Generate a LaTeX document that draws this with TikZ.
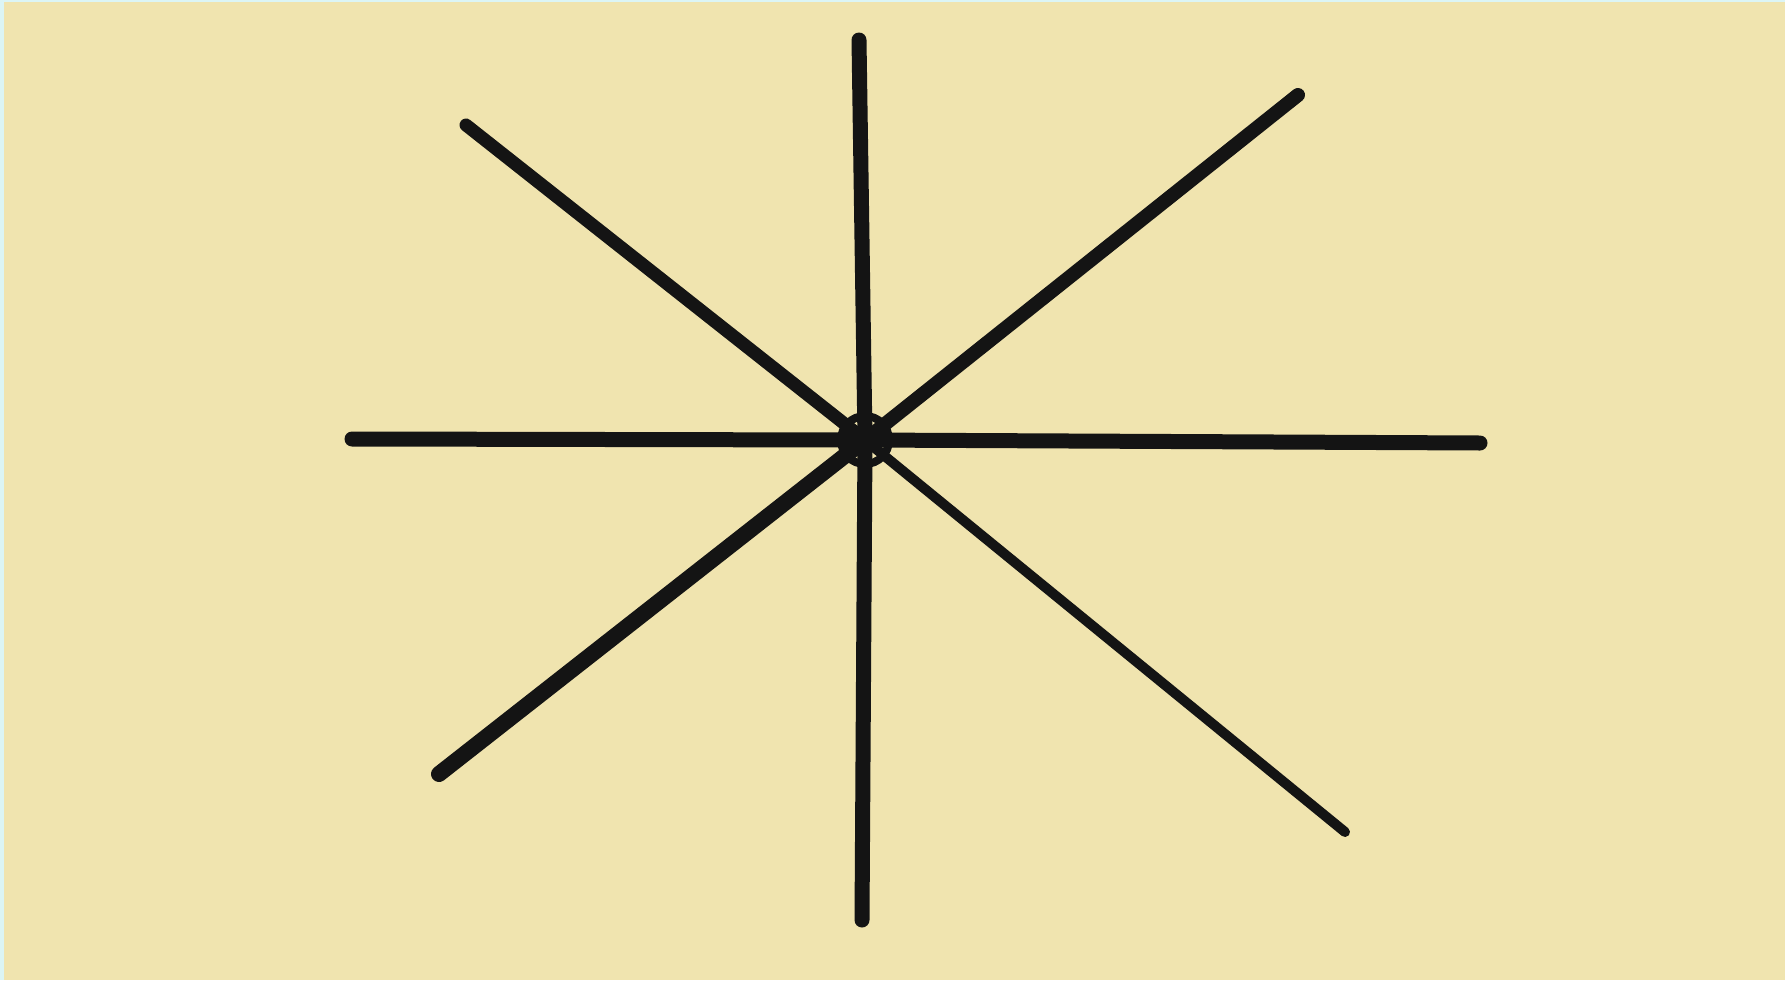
\documentclass[tikz,border=0pt]{standalone}
\definecolor{paper}{RGB}{240,228,175}
\definecolor{edge}{RGB}{220,245,245}
\tikzset{spoke/.style={line width=15pt, line cap=round, black!92}}
\begin{document}
\begin{tikzpicture}[x=1pt,y=-1pt]
\fill[edge] (0,0) rectangle (1785,980);
\fill[paper] (4,2) rectangle (1785,980);
\useasboundingbox (0,0) rectangle (1785,980);
\coordinate (c) at (865,440);
\coordinate (t) at (859,40);
\coordinate (b) at (862,920);
\coordinate (l) at (352,439);
\coordinate (r) at (1480,443);
\coordinate (ul) at (466,125);
\coordinate (ur) at (1298,95);
\coordinate (ll) at (439,774);
\coordinate (lr) at (1345,832);
\draw[spoke] (c) -- (t);
\draw[spoke] (c) -- (b);
\draw[spoke] (c) -- (l);
\draw[spoke] (c) -- (r);
\draw[spoke, line width=13pt] (c) -- (ul);
\draw[spoke, line width=14pt] (c) -- (ur);
\draw[spoke, line width=16pt] (c) -- (ll);
\draw[spoke, line width=10pt] (c) -- (lr);
\draw[line width=8pt, black!92] (c) circle (24);
\fill[black!92] (c) ++(-9,-1) circle (13);
\end{tikzpicture}
\end{document}
